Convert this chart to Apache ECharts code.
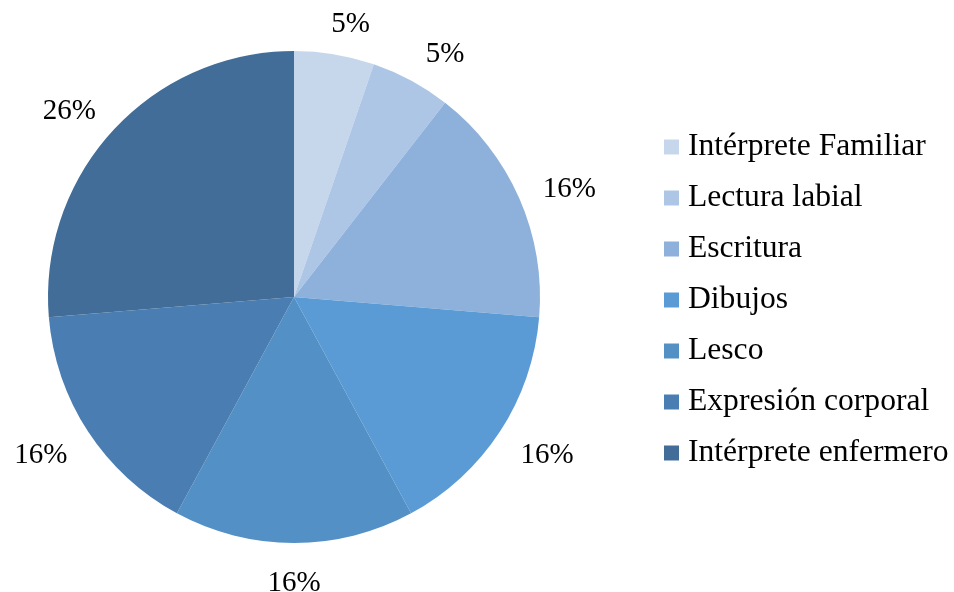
<!DOCTYPE html>
<html>
<head>
<meta charset="utf-8">
<script src="https://cdn.jsdelivr.net/npm/echarts@6/dist/echarts.min.js"></script>
<style>
  html, body { margin: 0; padding: 0; background: #fff; }
  #chart { width: 954px; height: 592px; }
</style>
</head>
<body>
<div id="chart"></div>
<script>
const categories = [
  'Intérprete Familiar',
  'Lectura labial',
  'Escritura',
  'Dibujos',
  'Lesco',
  'Expresión corporal',
  'Intérprete enfermero',
]
// counts (labels show rounded percentages)
const counts = [1, 1, 3, 3, 3, 3, 5]
const colors = ['#C6D6EB', '#ADC6E5', '#8EB1DC', '#5B9BD5', '#5390C5', '#4A7EB2', '#416D98']

const font = '"Liberation Serif", "Times New Roman", serif'
const center = [294, 297]
const radius = 246

const data = categories.map((name, i) => ({
  name: name,
  value: counts[i],
  itemStyle: { color: colors[i] },
}))

// outside-end labels: fixed radial distance, plus a sideways push on the left/right
function placeLabel(params) {
  const r = params.labelRect
  const dx = r.x + r.width / 2 - center[0]
  const dy = r.y + r.height / 2 - center[1]
  const len = Math.sqrt(dx * dx + dy * dy)
  const ux = dx / len
  const uy = dy / len
  return {
    x: center[0] + ux * 281 + 18 * Math.tanh(4 * ux),
    y: center[1] + uy * 281 + 5,
  }
}

const chart = echarts.init(document.getElementById('chart'))

chart.setOption({
  animation: false,
  legend: {
    orient: 'vertical',
    left: 664,
    top: 131,
    padding: 0,
    icon: 'rect',
    itemWidth: 15,
    itemHeight: 15,
    itemGap: 19,
    data: categories,
    textStyle: {
      fontFamily: font,
      fontSize: 31.6,
      lineHeight: 31,
      color: '#000',
      padding: [0, 0, 0, 4],
    },
  },
  series: [
    {
      type: 'pie',
      center: center,
      radius: [0, radius],
      startAngle: 90,
      clockwise: true,
      data: data,
      label: { show: false },
      labelLine: { show: false },
      itemStyle: { borderWidth: 0 },
      emphasis: { disabled: true },
    },
    {
      // transparent ring used only to place the percentage labels
      type: 'pie',
      center: center,
      radius: [262, 312],
      startAngle: 90,
      clockwise: true,
      silent: true,
      data: categories.map((name, i) => ({ name: name, value: counts[i] })),
      itemStyle: { color: 'transparent' },
      label: {
        show: true,
        position: 'inside',
        fontFamily: font,
        fontSize: 29,
        color: '#000',
        formatter: (p) => Math.round(p.percent) + '%',
      },
      labelLine: { show: false },
      labelLayout: placeLabel,
    },
  ],
})
</script>
</body>
</html>
